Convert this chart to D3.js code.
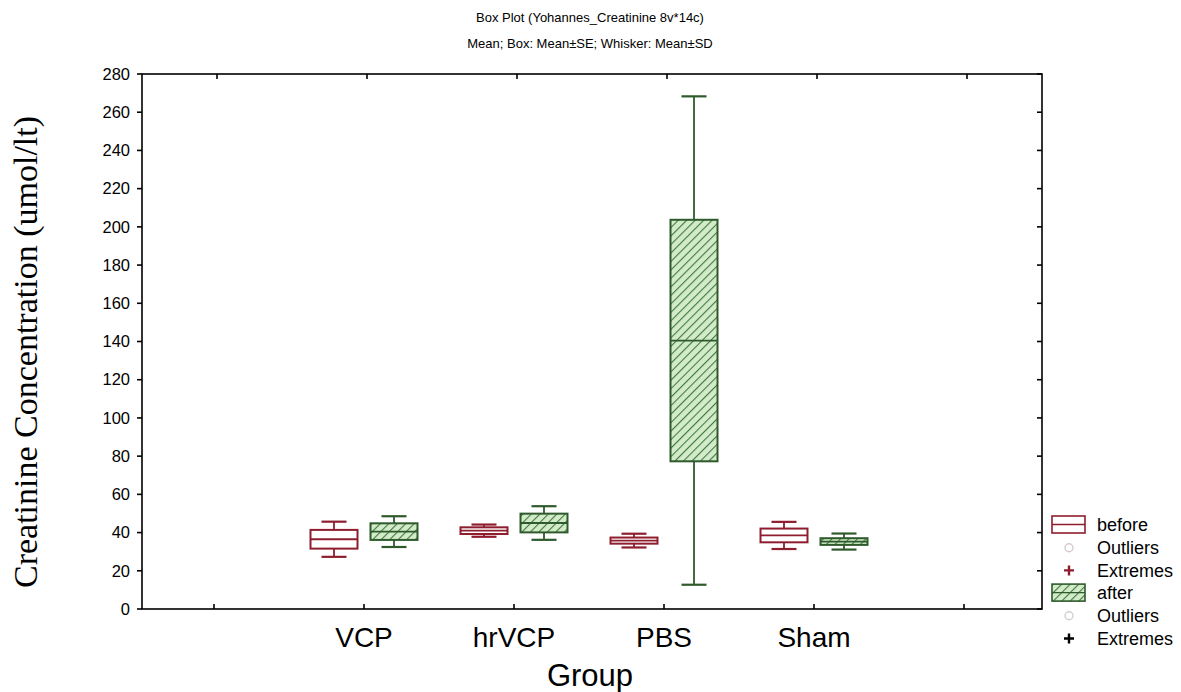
<!DOCTYPE html>
<html>
<head>
<meta charset="utf-8">
<script src="https://cdn.jsdelivr.net/npm/d3@7"></script>
<style>
  body { margin: 0; background: #fff; }
  text { font-family: "Liberation Sans", Arial, sans-serif; fill: #000; }
</style>
</head>
<body>
<svg id="chart"></svg>
<script>
// groups and summary stats (Mean, SE, SD)
var groups = ["VCP", "hrVCP", "PBS", "Sham"];
var beforeMean = [36.5, 41.0, 35.8, 38.5];
var beforeSE = [4.9, 1.75, 1.6, 3.6];
var beforeSD = [9.2, 3.2, 3.6, 7.1];
var afterMean = [40.5, 45.0, 140.5, 35.3];
var afterSE = [4.35, 4.9, 63.2, 1.75];
var afterSD = [8.05, 8.8, 127.8, 4.2];
var yTicks = d3.range(0, 281, 20);

var width = 1181,
    height = 692;

// plot frame (window.top is reserved, so prefixed names)
var pLeft = 142, pTop = 74, pRight = 1042, pBottom = 609;

var svg = d3.select("svg#chart")
    .attr("width", width)
    .attr("height", height);

var defs = svg.append("defs");
var pat = defs.append("pattern")
    .attr("id", "hatch")
    .attr("patternUnits", "userSpaceOnUse")
    .attr("width", 6)
    .attr("height", 6)
    .attr("patternTransform", "rotate(45)");
pat.append("rect")
    .attr("width", 6).attr("height", 6)
    .attr("fill", "#d3ebcb");
pat.append("line")
    .attr("x1", 0).attr("y1", 0).attr("x2", 0).attr("y2", 6)
    .attr("stroke", "#3f7a3a").attr("stroke-width", 2.2);

var x = d3.scaleBand()
    .domain(groups)
    .range([pLeft, pRight])
    .paddingOuter(1)
    .paddingInner(0);

var y = d3.scaleLinear()
    .domain([0, 280])
    .range([pBottom, pTop]);

var offset = 30, boxW = 47, capW = 25;

var series = [
    {name: "before", mean: beforeMean, se: beforeSE, sd: beforeSD, dx: -offset,
     stroke: "#8e1e2e", fill: "#fff"},
    {name: "after", mean: afterMean, se: afterSE, sd: afterSD, dx: offset,
     stroke: "#2f5a2c", fill: "url(#hatch)"}
];

// boxes
series.forEach(function(s) {
    var g = svg.append("g").attr("class", s.name)
        .selectAll("g")
        .data(groups)
        .enter()
        .append("g")
        .attr("transform", function(d) {
            return "translate(" + (x(d) + x.bandwidth() / 2 - 3 + s.dx) + ",0)";
        });

    g.append("line")
        .attr("y1", function(d, i) { return y(s.mean[i] + s.sd[i]); })
        .attr("y2", function(d, i) { return y(s.mean[i] - s.sd[i]); })
        .attr("stroke", s.stroke).attr("stroke-width", 1.8);

    g.append("line")
        .attr("x1", -capW / 2).attr("x2", capW / 2)
        .attr("y1", function(d, i) { return y(s.mean[i] + s.sd[i]); })
        .attr("y2", function(d, i) { return y(s.mean[i] + s.sd[i]); })
        .attr("stroke", s.stroke).attr("stroke-width", 2.2);

    g.append("line")
        .attr("x1", -capW / 2).attr("x2", capW / 2)
        .attr("y1", function(d, i) { return y(s.mean[i] - s.sd[i]); })
        .attr("y2", function(d, i) { return y(s.mean[i] - s.sd[i]); })
        .attr("stroke", s.stroke).attr("stroke-width", 2.2);

    g.append("rect")
        .attr("x", -boxW / 2)
        .attr("width", boxW)
        .attr("y", function(d, i) { return y(s.mean[i] + s.se[i]); })
        .attr("height", function(d, i) { return y(s.mean[i] - s.se[i]) - y(s.mean[i] + s.se[i]); })
        .attr("fill", s.fill)
        .attr("stroke", s.stroke).attr("stroke-width", 2);

    g.append("line")
        .attr("x1", -boxW / 2).attr("x2", boxW / 2)
        .attr("y1", function(d, i) { return y(s.mean[i]); })
        .attr("y2", function(d, i) { return y(s.mean[i]); })
        .attr("stroke", s.stroke).attr("stroke-width", 1.8);
});

// axes
var step = x.step();
var xTickPos = [x(groups[0]) - step].concat(groups.map(function(d) { return x(d); }), [x(groups[3]) + step])
    .map(function(v) { return v + x.bandwidth() / 2; });

var frame = svg.append("g").attr("stroke", "#000").attr("stroke-width", 1.6).attr("fill", "none");
frame.append("rect")
    .attr("x", pLeft).attr("y", pTop)
    .attr("width", pRight - pLeft).attr("height", pBottom - pTop);

frame.selectAll("line.xt")
    .data(xTickPos)
    .enter()
    .append("line")
    .attr("x1", function(d) { return d - 3; }).attr("x2", function(d) { return d - 3; })
    .attr("y1", pBottom).attr("y2", pBottom - 5);

frame.selectAll("line.xtt")
    .data(xTickPos)
    .enter()
    .append("line")
    .attr("x1", function(d) { return d; }).attr("x2", function(d) { return d; })
    .attr("y1", pTop).attr("y2", pTop + 5);

frame.selectAll("line.yt")
    .data(yTicks)
    .enter()
    .append("line")
    .attr("x1", pLeft - 5).attr("x2", pLeft)
    .attr("y1", function(d) { return y(d); }).attr("y2", function(d) { return y(d); });

frame.selectAll("line.ytr")
    .data(yTicks)
    .enter()
    .append("line")
    .attr("x1", pRight - 5).attr("x2", pRight)
    .attr("y1", function(d) { return y(d); }).attr("y2", function(d) { return y(d); });

svg.append("g")
    .selectAll("text")
    .data(yTicks)
    .enter()
    .append("text")
    .attr("x", pLeft - 12)
    .attr("y", function(d) { return y(d); })
    .attr("dy", "0.35em")
    .attr("text-anchor", "end")
    .style("font-size", "16.5px")
    .text(function(d) { return d; });

svg.append("g")
    .selectAll("text")
    .data(groups)
    .enter()
    .append("text")
    .attr("x", function(d) { return x(d) + x.bandwidth() / 2 - 3; })
    .attr("y", 647)
    .attr("text-anchor", "middle")
    .style("font-size", "28px")
    .text(function(d) { return d; });

// titles
svg.append("text")
    .attr("x", 590).attr("y", 22)
    .attr("text-anchor", "middle")
    .style("font-size", "13px")
    .text("Box Plot (Yohannes_Creatinine 8v*14c)");

svg.append("text")
    .attr("x", 590).attr("y", 48)
    .attr("text-anchor", "middle")
    .style("font-size", "13px")
    .text("Mean; Box: Mean±SE; Whisker: Mean±SD");

svg.append("text")
    .attr("x", 590).attr("y", 686)
    .attr("text-anchor", "middle")
    .style("font-size", "31px")
    .text("Group");

svg.append("text")
    .attr("transform", "translate(37,352) rotate(-90)")
    .attr("text-anchor", "middle")
    .style("font-family", "'Liberation Serif', 'Times New Roman', serif")
    .style("font-size", "34px")
    .text("Creatinine Concentration (umol/lt)");

// legend
var legendRows = [
    {label: "before", kind: "box", s: series[0]},
    {label: "Outliers", kind: "outlier", color: "#d8c8cc"},
    {label: "Extremes", kind: "extreme", color: "#8e1e2e"},
    {label: "after", kind: "box", s: series[1]},
    {label: "Outliers", kind: "outlier", color: "#d0d0d0"},
    {label: "Extremes", kind: "extreme", color: "#000"}
];

var lg = svg.append("g")
    .selectAll("g")
    .data(legendRows)
    .enter()
    .append("g")
    .attr("transform", function(d, i) { return "translate(1052," + (525 + i * 22.7) + ")"; });

lg.each(function(d) {
    var g = d3.select(this);
    if (d.kind == "box") {
        g.append("rect")
            .attr("x", 0).attr("y", -9)
            .attr("width", 33).attr("height", 17)
            .attr("fill", d.s.fill)
            .attr("stroke", d.s.stroke).attr("stroke-width", 1.6);
        g.append("line")
            .attr("x1", 0).attr("x2", 33).attr("y1", -0.5).attr("y2", -0.5)
            .attr("stroke", d.s.stroke).attr("stroke-width", 1.4);
    } else if (d.kind == "outlier") {
        g.append("circle")
            .attr("cx", 17).attr("cy", 0).attr("r", 4)
            .attr("fill", "none")
            .attr("stroke", d.color).attr("stroke-width", 1.4);
    } else {
        g.append("path")
            .attr("d", "M12,0H22M17,-5V5")
            .attr("stroke", d.color).attr("stroke-width", 2.4);
    }
    g.append("text")
        .attr("x", 45).attr("y", 0)
        .attr("dy", "0.35em")
        .style("font-size", "18px")
        .text(d.label);
});
</script>
</body>
</html>
